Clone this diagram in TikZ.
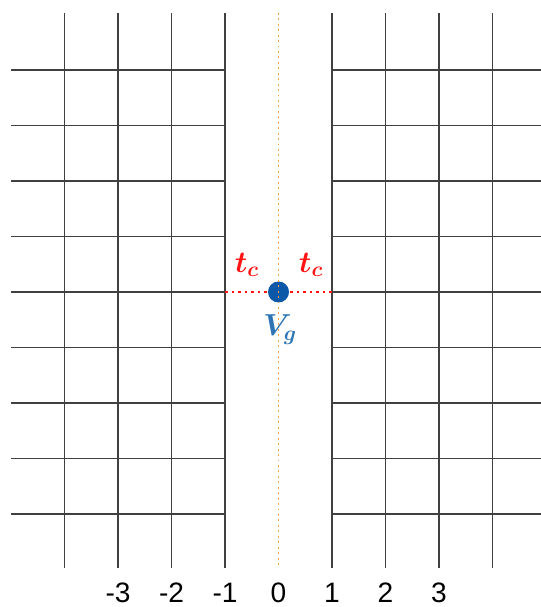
\documentclass[tikz,border=0pt]{standalone}
\usepackage{fontspec}
\setmainfont{Liberation Sans}
\definecolor{hopred}{RGB}{255, 20, 20}
\definecolor{axisorange}{RGB}{247, 160, 70}
\definecolor{sitedot}{RGB}{12, 88, 168}
\definecolor{gatecol}{RGB}{46, 117, 182}
\usetikzlibrary{positioning}

\begin{document}
\begin{tikzpicture}[x=1.07cm, y=1.11cm,
  gridline/.style={draw=black!75, line width=1pt},
  hop/.style={draw=hopred, line width=1.5pt, dash pattern=on 1.5pt off 2.2pt},
  axisline/.style={draw=axisorange, line width=1.1pt, dash pattern=on 1.1pt off 2pt},
  site/.style={circle, fill=sitedot, inner sep=0pt, minimum size=0.42cm},
  tick/.style={font=\fontsize{16}{19}\selectfont, inner sep=0pt},
  mlabel/.style={font=\fontsize{17}{20}\selectfont\boldmath, inner sep=0pt}]
\useasboundingbox (-5.206,-5.676) rectangle (4.888,5.261);
% left and right square lattices
\foreach \y in {-4,...,4} {
  \draw[gridline] (-5,\y) -- (-1,\y);
  \draw[gridline] (1,\y) -- (4.9,\y);
}
\foreach \x in {-4,-3,-2,-1,1,2,3,4}
  \draw[gridline] (\x,-4.97) -- (\x,5.03);
% coupling to the dot
\coordinate (lend) at (-1,0);
\coordinate (rend) at (1,0);
\draw[hop] (lend) -- (rend);
\node[site] (dot) at (0,0) {};
\coordinate (top) at (0,5.03);
\coordinate (bot) at (0,-4.97);
\draw[axisline] (top) -- (bot);
\node[mlabel, text=hopred] (tl) at (-0.59,0.49) {$t_c$};
\node[mlabel, text=hopred] (tr) at (0.61,0.49) {$t_c$};
\node[mlabel, text=gatecol] (vg) at (0.03,-0.68) {$V_g$};
% site numbers
\foreach \n in {-3,...,3}
  \node[tick] (num\n) at (\n,-5.42) {\n};
\end{tikzpicture}
\end{document}
